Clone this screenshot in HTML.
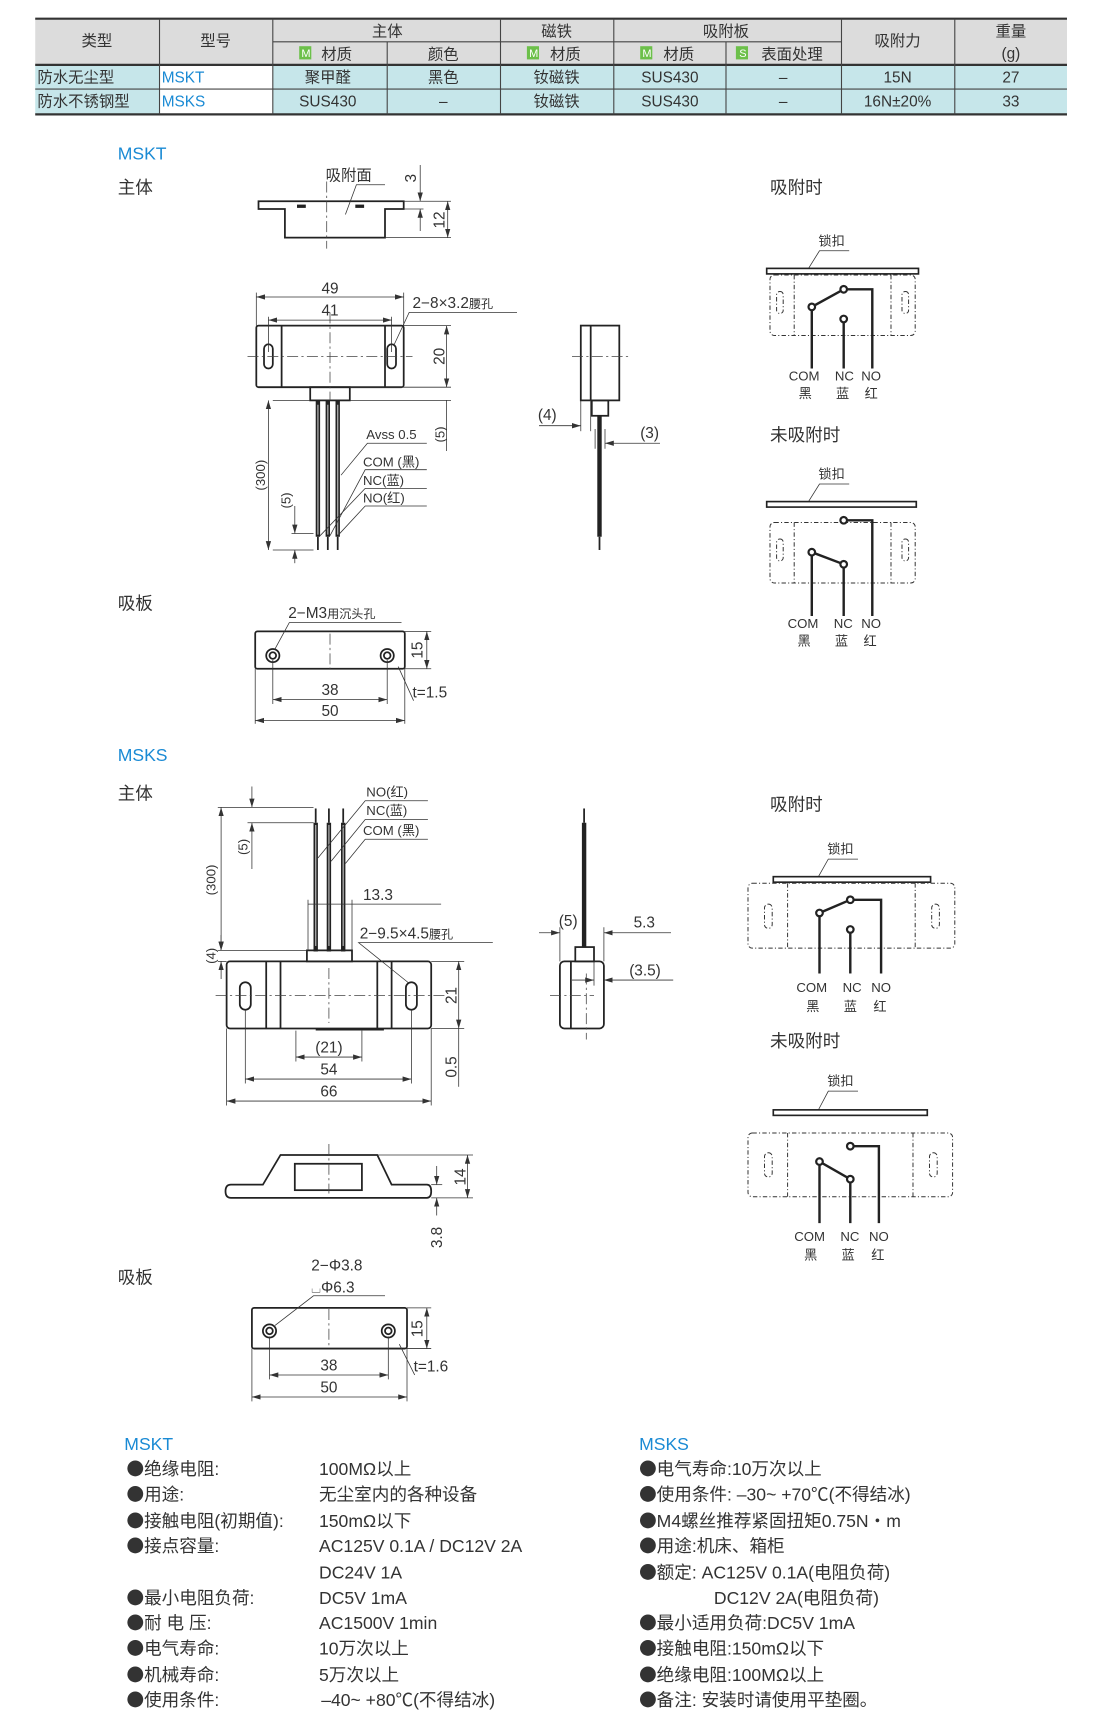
<!DOCTYPE html>
<html><head><meta charset="utf-8"><style>
html,body{margin:0;padding:0;background:#fff;}
svg{display:block;}
text{font-family:"Liberation Sans","Noto Sans CJK SC",sans-serif;fill:#333;}
.t{font-size:14px;}
.s{font-size:12px;}
.b{fill:#1a8ad4;font-size:16px;}
.o{fill:none;stroke:#222;stroke-width:1.6;}
.d{fill:none;stroke:#333;stroke-width:0.7;}
.c{fill:none;stroke:#444;stroke-width:0.7;stroke-dasharray:10 3 2 3;}
.x{fill:none;stroke:#333;stroke-width:0.9;stroke-dasharray:4 2 1 2;}
.w{fill:none;stroke:#222;stroke-width:2.2;}
.p{font-size:16px;fill:#333;}
.bu{font-family:"Noto Sans CJK SC",sans-serif;}
.wr{fill:none;stroke:#222;stroke-width:4;}
.wi{fill:none;stroke:#aaa;stroke-width:1.2;}
</style></head><body>
<svg width="1100" height="1722" viewBox="0 0 1000 1565.5" xmlns="http://www.w3.org/2000/svg">
<defs>
<marker id="a" viewBox="0 0 10 6" refX="10" refY="3" markerWidth="8" markerHeight="5" orient="auto-start-reverse" markerUnits="userSpaceOnUse"><path d="M0,0L10,3L0,6z" fill="#333"/></marker>
</defs>
<!-- TABLE -->
<rect x="32" y="17" width="938" height="42" fill="#dcdcdc"/>
<rect x="32" y="59" width="938" height="45" fill="#c6e6ea"/>
<rect x="145" y="59" width="103" height="45" fill="#fff"/>
<line x1="32" y1="17" x2="970" y2="17" stroke="#333" stroke-width="2"/>
<line x1="32" y1="59" x2="970" y2="59" stroke="#333" stroke-width="2"/>
<line x1="32" y1="104" x2="970" y2="104" stroke="#333" stroke-width="2"/>
<line x1="32" y1="81" x2="970" y2="81" stroke="#444" stroke-width="1"/>
<line x1="248" y1="38" x2="765" y2="38" stroke="#444" stroke-width="1"/>
<g stroke="#444" stroke-width="1">
<line x1="145" y1="17" x2="145" y2="104"/><line x1="248" y1="17" x2="248" y2="104"/>
<line x1="352" y1="38" x2="352" y2="104"/><line x1="455" y1="17" x2="455" y2="104"/>
<line x1="558" y1="17" x2="558" y2="104"/><line x1="660" y1="38" x2="660" y2="104"/>
<line x1="765" y1="17" x2="765" y2="104"/><line x1="868" y1="17" x2="868" y2="104"/>
</g>
<g class="t" text-anchor="middle">
<text x="88" y="42">类型</text><text x="196" y="42">型号</text>
<text x="352" y="33">主体</text><text x="506" y="33">磁铁</text><text x="660" y="33">吸附板</text>
<text x="816" y="42">吸附力</text><text x="919" y="33">重量</text><text x="919" y="53">(g)</text>
<text x="306" y="54">材质</text><text x="403" y="54">颜色</text><text x="514" y="54">材质</text>
<text x="617" y="54">材质</text><text x="720" y="54">表面处理</text>
<text x="298" y="75">聚甲醛</text><text x="403" y="75">黑色</text><text x="506" y="75">钕磁铁</text><text x="609" y="75">SUS430</text><text x="712" y="75">–</text><text x="816" y="75">15N</text><text x="919" y="75">27</text>
<text x="298" y="97">SUS430</text><text x="403" y="97">–</text><text x="506" y="97">钕磁铁</text><text x="609" y="97">SUS430</text><text x="712" y="97">–</text><text x="816" y="97">16N±20%</text><text x="919" y="97">33</text>
</g>
<g><rect x="272" y="42" width="11" height="12" fill="#6cc04a"/><text x="274" y="52" font-size="10" style="fill:#fff">M</text>
<rect x="479" y="42" width="11" height="12" fill="#6cc04a"/><text x="481" y="52" font-size="10" style="fill:#fff">M</text>
<rect x="582" y="42" width="11" height="12" fill="#6cc04a"/><text x="584" y="52" font-size="10" style="fill:#fff">M</text>
<rect x="669" y="42" width="11" height="12" fill="#6cc04a"/><text x="672" y="52" font-size="10" style="fill:#fff">S</text></g>
<text x="34" y="75" class="t">防水无尘型</text><text x="34" y="97" class="t">防水不锈钢型</text>
<text x="147" y="75" class="t" style="fill:#1a8ad4">MSKT</text><text x="147" y="97" class="t" style="fill:#1a8ad4">MSKS</text>

<!-- MSKT -->
<text x="107" y="145" class="b">MSKT</text>
<text x="107" y="176" class="p">主体</text>
<path class="o" d="M235,183 H367 V190 H350 V216 H259 V190 H235 Z"/>
<rect x="270" y="186" width="8" height="3" fill="#222"/><rect x="323" y="186" width="8" height="3" fill="#222"/>
<line class="c" x1="297" y1="165" x2="297" y2="226"/>
<text x="296" y="164" class="t">吸附面</text>
<path class="d" d="M350,168 H324 L314 195"/>
<line class="d" x1="367" y1="183" x2="410" y2="183"/><line class="d" x1="367" y1="190" x2="385" y2="190"/><line class="d" x1="350" y1="216" x2="410" y2="216"/>
<line class="d" x1="382" y1="150" x2="382" y2="183" marker-end="url(#a)"/><line class="d" x1="382" y1="210" x2="382" y2="190" marker-end="url(#a)"/>
<text transform="translate(378,162) rotate(-90)" class="t" text-anchor="middle">3</text>
<line class="d" x1="407" y1="183" x2="407" y2="216" marker-start="url(#a)" marker-end="url(#a)"/>
<text transform="translate(404,200) rotate(-90)" class="t" text-anchor="middle">12</text>
<rect class="o" x="233" y="296" width="134" height="56" rx="2"/>
<line class="o" x1="256" y1="296" x2="256" y2="352"/><line class="o" x1="350" y1="296" x2="350" y2="352"/>
<rect class="o" x="240" y="313" width="8" height="22" rx="4"/><rect class="o" x="352" y="313" width="8" height="22" rx="4"/>
<rect class="o" x="282" y="352" width="36" height="12"/>
<line class="c" x1="225" y1="324" x2="375" y2="324"/><line class="c" x1="300" y1="284" x2="300" y2="364"/>
<g class="wr"><line x1="289" y1="364" x2="289" y2="488"/><line x1="298" y1="364" x2="298" y2="488"/><line x1="307" y1="364" x2="307" y2="488"/></g>
<g class="wi"><line x1="289" y1="368" x2="289" y2="486"/><line x1="298" y1="368" x2="298" y2="486"/><line x1="307" y1="368" x2="307" y2="486"/></g>
<g class="o"><line x1="289" y1="488" x2="289" y2="500"/><line x1="298" y1="488" x2="298" y2="500"/><line x1="307" y1="488" x2="307" y2="500"/></g>
<line class="d" x1="233" y1="266" x2="233" y2="296"/><line class="d" x1="367" y1="266" x2="367" y2="296"/>
<line class="d" x1="233" y1="270" x2="367" y2="270" marker-start="url(#a)" marker-end="url(#a)"/>
<text x="300" y="267" class="t" text-anchor="middle">49</text>
<line class="d" x1="244" y1="291" x2="356" y2="291" marker-start="url(#a)" marker-end="url(#a)"/>
<line class="d" x1="244" y1="288" x2="244" y2="320"/><line class="d" x1="356" y1="288" x2="356" y2="320"/>
<text x="300" y="287" class="t" text-anchor="middle">41</text>
<text x="375" y="280" class="t">2−8×3.2<tspan font-size="11">腰孔</tspan></text>
<path class="d" d="M470,284 H372 L358 314"/>
<line class="d" x1="367" y1="296" x2="410" y2="296"/><line class="d" x1="318" y1="352" x2="410" y2="352"/><line class="d" x1="318" y1="364" x2="410" y2="364"/>
<line class="d" x1="406" y1="296" x2="406" y2="352" marker-start="url(#a)" marker-end="url(#a)"/>
<text transform="translate(404,324) rotate(-90)" class="t" text-anchor="middle">20</text>
<line class="d" x1="406" y1="364" x2="406" y2="410"/>
<text transform="translate(404,395) rotate(-90)" class="s" text-anchor="middle">(5)</text>
<text x="333" y="399" class="s">Avss 0.5</text><path class="d" d="M388,403 H334 L310 432"/>
<text x="330" y="424" class="s">COM (黑)</text><path class="d" d="M388,427 H332 L300 487"/>
<text x="330" y="441" class="s">NC(蓝)</text><path class="d" d="M388,444 H332 L291 487"/>
<text x="330" y="457" class="s">NO(红)</text><path class="d" d="M388,460 H332 L307 487"/>
<line class="d" x1="248" y1="364" x2="282" y2="364"/><line class="d" x1="248" y1="500" x2="285" y2="500"/>
<line class="d" x1="244" y1="364" x2="244" y2="500" marker-start="url(#a)" marker-end="url(#a)"/>
<text transform="translate(241,432) rotate(-90)" class="s" text-anchor="middle">(300)</text>
<line class="d" x1="265" y1="485" x2="285" y2="485"/>
<line class="d" x1="268" y1="460" x2="268" y2="485" marker-end="url(#a)"/><line class="d" x1="268" y1="512" x2="268" y2="500" marker-end="url(#a)"/>
<text transform="translate(264,455) rotate(-90)" class="s" text-anchor="middle">(5)</text>
<rect class="o" x="528" y="296" width="35" height="68"/><line class="o" x1="537" y1="296" x2="537" y2="364"/>
<rect class="o" x="538" y="364" width="15" height="14"/>
<line class="wr" x1="545" y1="378" x2="545" y2="488"/><line class="o" x1="545" y1="488" x2="545" y2="500"/>
<line class="c" x1="520" y1="324" x2="572" y2="324"/>
<line class="d" x1="528" y1="364" x2="528" y2="392"/><line class="d" x1="537" y1="364" x2="537" y2="392"/>
<line class="d" x1="490" y1="387" x2="528" y2="387" marker-end="url(#a)"/>
<text x="489" y="382" class="t">(4)</text>
<line class="d" x1="541" y1="390" x2="541" y2="408"/><line class="d" x1="550" y1="390" x2="550" y2="408"/>
<line class="d" x1="600" y1="403" x2="550" y2="403" marker-end="url(#a)"/>
<text x="582" y="398" class="t">(3)</text>
<text x="700" y="176" class="p">吸附时</text>
<text x="744" y="223" class="s">锁扣</text><path class="d" d="M772,228 H745 L735 244"/>
<rect x="697" y="244" width="138" height="5" fill="#fff" stroke="#222" stroke-width="1.5"/>
<rect class="x" x="700" y="250" width="132" height="55" rx="4"/>
<line class="x" x1="722" y1="250" x2="722" y2="305"/><line class="x" x1="810" y1="250" x2="810" y2="305"/>
<rect class="x" x="706" y="265" width="6" height="20" rx="3"/><rect class="x" x="820" y="265" width="6" height="20" rx="3"/>
<path class="w" d="M738,335 V279 L767,263 H793 V335"/><path class="w" d="M767,290 V335"/>
<circle cx="738" cy="279" r="3" fill="#fff" stroke="#222" stroke-width="2"/><circle cx="767" cy="263" r="3" fill="#fff" stroke="#222" stroke-width="2"/><circle cx="767" cy="290" r="3" fill="#fff" stroke="#222" stroke-width="2"/>
<text x="717" y="346" class="s">COM</text><text x="759" y="346" class="s">NC</text><text x="783" y="346" class="s">NO</text>
<text x="726" y="362" class="s">黑</text><text x="760" y="362" class="s">蓝</text><text x="786" y="362" class="s">红</text>
<text x="700" y="401" class="p">未吸附时</text>
<text x="744" y="435" class="s">锁扣</text><path class="d" d="M772,440 H745 L735 456"/>
<rect x="697" y="456" width="136" height="5" fill="#fff" stroke="#222" stroke-width="1.5"/>
<rect class="x" x="700" y="475" width="132" height="55" rx="4"/>
<line class="x" x1="722" y1="475" x2="722" y2="530"/><line class="x" x1="810" y1="475" x2="810" y2="530"/>
<rect class="x" x="706" y="490" width="6" height="20" rx="3"/><rect class="x" x="820" y="490" width="6" height="20" rx="3"/>
<path class="w" d="M738,560 V502 L767,513 V560"/><path class="w" d="M767,473 H793 V560"/>
<circle cx="738" cy="502" r="3" fill="#fff" stroke="#222" stroke-width="2"/><circle cx="767" cy="513" r="3" fill="#fff" stroke="#222" stroke-width="2"/><circle cx="767" cy="473" r="3" fill="#fff" stroke="#222" stroke-width="2"/>
<text x="716" y="571" class="s">COM</text><text x="758" y="571" class="s">NC</text><text x="783" y="571" class="s">NO</text>
<text x="725" y="587" class="s">黑</text><text x="759" y="587" class="s">蓝</text><text x="785" y="587" class="s">红</text>
<text x="107" y="554" class="p">吸板</text>
<rect class="o" x="232" y="574" width="136" height="34" rx="2"/>
<circle class="o" cx="248" cy="596" r="6"/><circle class="o" cx="248" cy="596" r="3"/>
<circle class="o" cx="352" cy="596" r="6"/><circle class="o" cx="352" cy="596" r="3"/>
<line class="c" x1="300" y1="576" x2="300" y2="608"/>
<text x="262" y="562" class="t">2−M3<tspan font-size="11">用沉头孔</tspan></text>
<path class="d" d="M365,566 H263 L250 590"/>
<line class="d" x1="248" y1="600" x2="248" y2="640"/><line class="d" x1="352" y1="600" x2="352" y2="640"/>
<line class="d" x1="248" y1="636" x2="352" y2="636" marker-start="url(#a)" marker-end="url(#a)"/>
<text x="300" y="632" class="t" text-anchor="middle">38</text>
<line class="d" x1="232" y1="608" x2="232" y2="658"/><line class="d" x1="368" y1="608" x2="368" y2="658"/>
<line class="d" x1="232" y1="655" x2="368" y2="655" marker-start="url(#a)" marker-end="url(#a)"/>
<text x="300" y="651" class="t" text-anchor="middle">50</text>
<line class="d" x1="368" y1="574" x2="392" y2="574"/><line class="d" x1="368" y1="608" x2="392" y2="608"/>
<line class="d" x1="388" y1="574" x2="388" y2="608" marker-start="url(#a)" marker-end="url(#a)"/>
<text transform="translate(384,591) rotate(-90)" class="t" text-anchor="middle">15</text>
<text x="375" y="634" class="t">t=1.5</text><path class="d" d="M376,637 L362 606"/>

<!-- MSKS -->
<text x="107" y="692" class="b">MSKS</text>
<text x="107" y="727" class="p">主体</text>
<g class="o"><line x1="287" y1="735" x2="287" y2="748"/><line x1="299" y1="735" x2="299" y2="748"/><line x1="312" y1="735" x2="312" y2="748"/></g>
<g class="wr"><line x1="287" y1="748" x2="287" y2="865"/><line x1="299" y1="748" x2="299" y2="865"/><line x1="312" y1="748" x2="312" y2="865"/></g>
<g class="wi"><line x1="287" y1="750" x2="287" y2="860"/><line x1="299" y1="750" x2="299" y2="860"/><line x1="312" y1="750" x2="312" y2="860"/></g>
<rect class="o" x="279" y="864" width="41" height="10"/>
<rect class="o" x="206" y="874" width="186" height="61" rx="3"/>
<line class="o" x1="242" y1="874" x2="242" y2="935"/><line class="o" x1="255" y1="874" x2="255" y2="935"/>
<line class="o" x1="343" y1="874" x2="343" y2="935"/><line class="o" x1="356" y1="874" x2="356" y2="935"/>
<rect class="o" x="218" y="893" width="10" height="25" rx="5"/><rect class="o" x="369" y="893" width="10" height="25" rx="5"/>
<line class="c" x1="196" y1="905" x2="404" y2="905"/><line class="c" x1="299" y1="880" x2="299" y2="930"/>
<line class="o" x1="287" y1="936" x2="349" y2="936"/>
<text x="333" y="724" class="s">NO(红)</text><path class="d" d="M389,728 H332 L289 780"/>
<text x="333" y="741" class="s">NC(蓝)</text><path class="d" d="M389,745 H332 L301 783"/>
<text x="330" y="759" class="s">COM (黑)</text><path class="d" d="M389,763 H332 L314 785"/>
<line class="d" x1="198" y1="734" x2="285" y2="734"/><line class="d" x1="198" y1="864" x2="279" y2="864"/><line class="d" x1="198" y1="874" x2="206" y2="874"/>
<line class="d" x1="201" y1="734" x2="201" y2="864" marker-start="url(#a)" marker-end="url(#a)"/>
<text transform="translate(196,800) rotate(-90)" class="s" text-anchor="middle">(300)</text>
<line class="d" x1="225" y1="748" x2="285" y2="748"/>
<line class="d" x1="229" y1="715" x2="229" y2="734" marker-end="url(#a)"/><line class="d" x1="229" y1="790" x2="229" y2="748" marker-end="url(#a)"/>
<text transform="translate(225,770) rotate(-90)" class="s" text-anchor="middle">(5)</text>
<line class="d" x1="201" y1="850" x2="201" y2="864" marker-end="url(#a)"/><line class="d" x1="201" y1="890" x2="201" y2="874" marker-end="url(#a)"/>
<text transform="translate(196,869) rotate(-90)" class="s" text-anchor="middle">(4)</text>
<line class="d" x1="280" y1="818" x2="280" y2="864"/><line class="d" x1="320" y1="818" x2="320" y2="864"/>
<line class="d" x1="280" y1="822" x2="401" y2="822"/>
<text x="330" y="818" class="t">13.3</text>
<text x="327" y="853" class="t">2−9.5×4.5<tspan font-size="11">腰孔</tspan></text>
<path class="d" d="M448,857 H326 L372 894"/>
<line class="d" x1="392" y1="874" x2="422" y2="874"/><line class="d" x1="392" y1="935" x2="422" y2="935"/>
<line class="d" x1="417" y1="874" x2="417" y2="935" marker-start="url(#a)" marker-end="url(#a)"/>
<text transform="translate(415,905) rotate(-90)" class="t" text-anchor="middle">21</text>
<line class="d" x1="417" y1="935" x2="417" y2="988"/>
<text transform="translate(415,970) rotate(-90)" class="t" text-anchor="middle">0.5</text>
<line class="d" x1="269" y1="937" x2="269" y2="965"/><line class="d" x1="329" y1="937" x2="329" y2="965"/>
<line class="d" x1="269" y1="961" x2="329" y2="961" marker-start="url(#a)" marker-end="url(#a)"/>
<text x="299" y="957" class="t" text-anchor="middle">(21)</text>
<line class="d" x1="223" y1="918" x2="223" y2="985"/><line class="d" x1="374" y1="918" x2="374" y2="985"/>
<line class="d" x1="223" y1="981" x2="374" y2="981" marker-start="url(#a)" marker-end="url(#a)"/>
<text x="299" y="977" class="t" text-anchor="middle">54</text>
<line class="d" x1="206" y1="935" x2="206" y2="1005"/><line class="d" x1="392" y1="935" x2="392" y2="1005"/>
<line class="d" x1="206" y1="1001" x2="392" y2="1001" marker-start="url(#a)" marker-end="url(#a)"/>
<text x="299" y="997" class="t" text-anchor="middle">66</text>
<line class="o" x1="531" y1="735" x2="531" y2="748"/><line class="wr" x1="531" y1="748" x2="531" y2="861"/>
<rect class="o" x="523" y="861" width="17" height="13"/>
<rect class="o" x="509" y="874" width="40" height="61" rx="4"/><line class="o" x1="519" y1="874" x2="519" y2="935"/>
<line class="c" x1="500" y1="905" x2="540" y2="905"/><line class="c" x1="533" y1="885" x2="533" y2="945"/>
<line class="d" x1="509" y1="843" x2="509" y2="874"/><line class="d" x1="549" y1="843" x2="549" y2="874"/>
<line class="d" x1="490" y1="848" x2="509" y2="848" marker-end="url(#a)"/>
<line class="d" x1="610" y1="848" x2="549" y2="848" marker-end="url(#a)"/>
<text x="508" y="842" class="t">(5)</text><text x="576" y="843" class="t">5.3</text>
<line class="d" x1="540" y1="874" x2="540" y2="896"/>
<line class="d" x1="612" y1="891" x2="549" y2="891" marker-end="url(#a)"/>
<line class="d" x1="520" y1="891" x2="540" y2="891" marker-end="url(#a)"/>
<text x="572" y="887" class="t">(3.5)</text>
<path class="o" d="M210,1077 H239 L255,1050 H343 L356,1077 H388 Q392,1077 392,1083 Q392,1089 388,1089 H210 Q205,1089 205,1083 Q205,1077 210,1077 Z"/>
<rect class="o" x="268" y="1058" width="61" height="24"/>
<line class="c" x1="299" y1="1040" x2="299" y2="1085"/>
<line class="d" x1="343" y1="1050" x2="430" y2="1050"/><line class="d" x1="392" y1="1089" x2="430" y2="1089"/><line class="d" x1="392" y1="1077" x2="402" y2="1077"/>
<line class="d" x1="425" y1="1050" x2="425" y2="1089" marker-start="url(#a)" marker-end="url(#a)"/>
<text transform="translate(423,1070) rotate(-90)" class="t" text-anchor="middle">14</text>
<line class="d" x1="397" y1="1060" x2="397" y2="1077" marker-end="url(#a)"/><line class="d" x1="397" y1="1105" x2="397" y2="1089" marker-end="url(#a)"/>
<text transform="translate(402,1125) rotate(-90)" class="t" text-anchor="middle">3.8</text>
<text x="107" y="1167" class="p">吸板</text>
<rect class="o" x="229" y="1189" width="141" height="37" rx="2"/>
<circle class="o" cx="245" cy="1210" r="6"/><circle class="o" cx="245" cy="1210" r="3"/>
<circle class="o" cx="353" cy="1210" r="6"/><circle class="o" cx="353" cy="1210" r="3"/>
<line class="c" x1="299" y1="1190" x2="299" y2="1226"/>
<text x="283" y="1155" class="t">2−Φ3.8</text>
<text x="283" y="1175" class="t"><tspan font-size="11">⌴</tspan>Φ6.3</text>
<path class="d" d="M350,1178 H285 L250 1205"/>
<line class="d" x1="245" y1="1215" x2="245" y2="1254"/><line class="d" x1="353" y1="1215" x2="353" y2="1254"/>
<line class="d" x1="245" y1="1250" x2="353" y2="1250" marker-start="url(#a)" marker-end="url(#a)"/>
<text x="299" y="1246" class="t" text-anchor="middle">38</text>
<line class="d" x1="229" y1="1226" x2="229" y2="1274"/><line class="d" x1="370" y1="1226" x2="370" y2="1274"/>
<line class="d" x1="229" y1="1270" x2="370" y2="1270" marker-start="url(#a)" marker-end="url(#a)"/>
<text x="299" y="1266" class="t" text-anchor="middle">50</text>
<line class="d" x1="370" y1="1189" x2="392" y2="1189"/><line class="d" x1="370" y1="1226" x2="392" y2="1226"/>
<line class="d" x1="388" y1="1189" x2="388" y2="1226" marker-start="url(#a)" marker-end="url(#a)"/>
<text transform="translate(384,1208) rotate(-90)" class="t" text-anchor="middle">15</text>
<text x="376" y="1247" class="t">t=1.6</text><path class="d" d="M377,1250 L363 1222"/>
<text x="700" y="737" class="p">吸附时</text>
<text x="752" y="776" class="s">锁扣</text><path class="d" d="M780,781 H753 L744 797"/>
<rect x="703" y="797" width="143" height="5" fill="#fff" stroke="#222" stroke-width="1.5"/>
<rect class="x" x="680" y="803" width="188" height="59" rx="4"/>
<line class="x" x1="716" y1="803" x2="716" y2="862"/><line class="x" x1="832" y1="803" x2="832" y2="862"/>
<rect class="x" x="695" y="822" width="7" height="22" rx="3.5"/><rect class="x" x="847" y="822" width="7" height="22" rx="3.5"/>
<path class="w" d="M745,885 V830 L773,818 H801 V885"/><path class="w" d="M773,845 V885"/>
<circle cx="745" cy="830" r="3" fill="#fff" stroke="#222" stroke-width="2"/><circle cx="773" cy="818" r="3" fill="#fff" stroke="#222" stroke-width="2"/><circle cx="773" cy="845" r="3" fill="#fff" stroke="#222" stroke-width="2"/>
<text x="724" y="902" class="s">COM</text><text x="766" y="902" class="s">NC</text><text x="792" y="902" class="s">NO</text>
<text x="733" y="919" class="s">黑</text><text x="767" y="919" class="s">蓝</text><text x="794" y="919" class="s">红</text>
<text x="700" y="952" class="p">未吸附时</text>
<text x="752" y="987" class="s">锁扣</text><path class="d" d="M780,992 H753 L744 1009"/>
<rect x="703" y="1009" width="140" height="5" fill="#fff" stroke="#222" stroke-width="1.5"/>
<rect class="x" x="680" y="1030" width="186" height="58" rx="4"/>
<line class="x" x1="716" y1="1030" x2="716" y2="1088"/><line class="x" x1="830" y1="1030" x2="830" y2="1088"/>
<rect class="x" x="695" y="1048" width="7" height="22" rx="3.5"/><rect class="x" x="845" y="1048" width="7" height="22" rx="3.5"/>
<path class="w" d="M745,1112 V1056 L773,1072 V1112"/><path class="w" d="M773,1042 H799 V1112"/>
<circle cx="745" cy="1056" r="3" fill="#fff" stroke="#222" stroke-width="2"/><circle cx="773" cy="1072" r="3" fill="#fff" stroke="#222" stroke-width="2"/><circle cx="773" cy="1042" r="3" fill="#fff" stroke="#222" stroke-width="2"/>
<text x="722" y="1128" class="s">COM</text><text x="764" y="1128" class="s">NC</text><text x="790" y="1128" class="s">NO</text>
<text x="731" y="1145" class="s">黑</text><text x="765" y="1145" class="s">蓝</text><text x="792" y="1145" class="s">红</text>

<!-- SPECS -->
<text x="113" y="1318" class="b">MSKT</text>
<g class="p">
<text x="115" y="1341"><tspan class="bu">●</tspan>绝缘电阻:</text><text x="290" y="1341">100MΩ以上</text>
<text x="115" y="1364"><tspan class="bu">●</tspan>用途:</text><text x="290" y="1364">无尘室内的各种设备</text>
<text x="115" y="1388"><tspan class="bu">●</tspan>接触电阻(初期值):</text><text x="290" y="1388">150mΩ以下</text>
<text x="115" y="1411"><tspan class="bu">●</tspan>接点容量:</text><text x="290" y="1411">AC125V 0.1A / DC12V  2A</text>
<text x="290" y="1435">DC24V  1A</text>
<text x="115" y="1458"><tspan class="bu">●</tspan>最小电阻负荷:</text><text x="290" y="1458">DC5V    1mA</text>
<text x="115" y="1481"><tspan class="bu">●</tspan>耐  电  压:</text><text x="290" y="1481">AC1500V    1min</text>
<text x="115" y="1504"><tspan class="bu">●</tspan>电气寿命:</text><text x="290" y="1504">10万次以上</text>
<text x="115" y="1528"><tspan class="bu">●</tspan>机械寿命:</text><text x="290" y="1528">5万次以上</text>
<text x="115" y="1551"><tspan class="bu">●</tspan>使用条件:</text><text x="292" y="1551">–40~ +80℃(不得结冰)</text>
</g>
<text x="581" y="1318" class="b">MSKS</text>
<g class="p">
<text x="581" y="1341"><tspan class="bu">●</tspan>电气寿命:10万次以上</text>
<text x="581" y="1364"><tspan class="bu">●</tspan>使用条件: –30~ +70℃(不得结冰)</text>
<text x="581" y="1388"><tspan class="bu">●</tspan>M4螺丝推荐紧固扭矩0.75N・m</text>
<text x="581" y="1411"><tspan class="bu">●</tspan>用途:机床、箱柜</text>
<text x="581" y="1435"><tspan class="bu">●</tspan>额定: AC125V 0.1A(电阻负荷)</text>
<text x="649" y="1458">DC12V 2A(电阻负荷)</text>
<text x="581" y="1481"><tspan class="bu">●</tspan>最小适用负荷:DC5V 1mA</text>
<text x="581" y="1504"><tspan class="bu">●</tspan>接触电阻:150mΩ以下</text>
<text x="581" y="1528"><tspan class="bu">●</tspan>绝缘电阻:100MΩ以上</text>
<text x="581" y="1551"><tspan class="bu">●</tspan>备注: 安装时请使用平垫圈。</text>
</g>
</svg>
</body></html>
